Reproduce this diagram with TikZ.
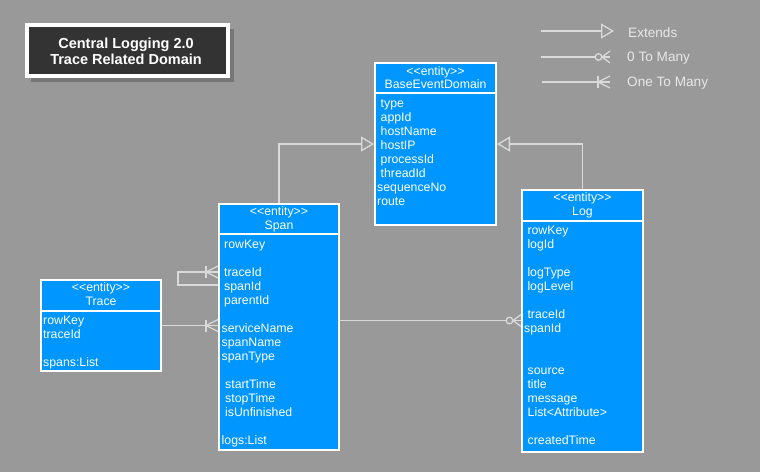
\documentclass[tikz,border=0pt]{standalone}
\usepackage{fontspec}
\setmainfont{Liberation Sans}[Ligatures=TeXOff]
\usetikzlibrary{arrows.meta,calc}

\definecolor{canvas}{HTML}{999999}
\definecolor{entityblue}{HTML}{0096FF}
\definecolor{wire}{HTML}{DADADA}
\definecolor{titlefill}{HTML}{333333}
\definecolor{titleshadow}{HTML}{767676}
\definecolor{legendtext}{HTML}{E8E8E8}

\tikzset{
  entity/.style={draw=white, line width=2pt, fill=entityblue, inner sep=0pt},
  sepline/.style={draw=white, line width=2pt},
  head/.style={anchor=base, inner sep=0pt, text=white, font=\fontsize{12.3}{14}\selectfont},
  attr/.style={anchor=base west, inner sep=0pt, text=white, font=\fontsize{12.3}{14}\selectfont},
  conn/.style={draw=wire, line width=1.3pt},
  extends/.style={conn, -{Triangle[length=13pt, width=15pt, fill=canvas, line width=1.3pt]}},
  legendlabel/.style={anchor=base west, inner sep=0pt, text=legendtext, font=\fontsize{13.6}{16}\selectfont},
  pics/onemany/.style={code={
    \draw[conn] (-12,-6) -- (-12,6);
    \draw[conn] (0,-6) -- (-12,0) -- (0,6);
  }},
  pics/zeromany/.style={code={
    \draw[conn] (0,-6) -- (-8,0) -- (0,6);
    \draw[conn, fill=canvas] (-11.5,0) circle (3.3);
  }},
}

% rows of an entity: name, left x, first baseline, list of row/xoffset/text
\newcommand\entityrows[4]{%
  \foreach \r/\dx/\t in {#4} {
    \node[attr] (#1-\r) at ({#2+\dx}, {#3+14*(\r-1)}) {\t};
  }%
}

\begin{document}
\begin{tikzpicture}[x=1pt, y=-1pt]
  \fill[canvas] (0,0) rectangle (760,472);
  \useasboundingbox (0,0) rectangle (760,472);

  % title block
  \fill[titleshadow] (31,29) rectangle (234,82);
  \node[draw=white, line width=4pt, fill=titlefill, minimum width=201pt, minimum height=51pt,
        inner sep=0pt] (title) at (127.5,50.5) {};
  \node[anchor=base, inner sep=0pt, text=white, font=\fontsize{14.5}{16}\selectfont\bfseries]
    (title-a) at (126,48.3) {Central Logging 2.0};
  \node[anchor=base, inner sep=0pt, text=white, font=\fontsize{14.5}{16}\selectfont\bfseries]
    (title-b) at (126,64.3) {Trace Related Domain};

  % legend
  \coordinate (lg-ext-a) at (541,31);
  \coordinate (lg-ext-b) at (614,31);
  \draw[extends] (lg-ext-a) -- (lg-ext-b);
  \node[legendlabel] (lg-ext) at (628,37.5) {Extends};

  \coordinate (lg-zero-a) at (541,57);
  \coordinate (lg-zero-b) at (610,57);
  \draw[conn] (lg-zero-a) -- (lg-zero-b);
  \pic at (lg-zero-b) {zeromany};
  \node[legendlabel] (lg-zero) at (627,61.7) {0 To Many};

  \coordinate (lg-one-a) at (542,82);
  \coordinate (lg-one-b) at (610,82);
  \draw[conn] (lg-one-a) -- (lg-one-b);
  \pic at (lg-one-b) {onemany};
  \node[legendlabel] (lg-one) at (627,86) {One To Many};

  % BaseEventDomain
  \node[entity, minimum width=121pt, minimum height=162pt] (bed) at (435.5,144) {};
  \draw[sepline] ([yshift=-31pt]bed.north west) -- ([yshift=-31pt]bed.north east);
  \node[head] (bed-st) at ([yshift=-13pt]bed.north) {<<entity>>};
  \node[head] (bed-nm) at ([yshift=-26.5pt]bed.north) {BaseEventDomain};
  \entityrows{bed}{377}{107.5}{1/3.5/type, 2/3.5/appId, 3/3.5/hostName, 4/3.5/hostIP,
    5/3.5/processId, 6/3.5/threadId, 7/0/sequenceNo, 8/0/route}

  % Span
  \node[entity, minimum width=120pt, minimum height=246pt] (span) at (279,327) {};
  \draw[sepline] ([yshift=-31pt]span.north west) -- ([yshift=-31pt]span.north east);
  \node[head] (span-st) at ([yshift=-12pt]span.north) {<<entity>>};
  \node[head] (span-nm) at ([yshift=-26pt]span.north) {Span};
  \entityrows{span}{221.5}{248.5}{1/2.5/rowKey, 3/2.5/traceId, 4/2.5/spanId, 5/2.5/parentId,
    7/0/serviceName, 8/0/spanName, 9/0/spanType, 11/3.5/startTime, 12/3.5/stopTime,
    13/3.5/isUnfinished, 15/0/logs:List}

  % Trace
  \node[entity, minimum width=120pt, minimum height=91pt] (trace) at (101,325.5) {};
  \draw[sepline] ([yshift=-32pt]trace.north west) -- ([yshift=-32pt]trace.north east);
  \node[head] (trace-st) at ([yshift=-12pt]trace.north) {<<entity>>};
  \node[head] (trace-nm) at ([yshift=-26pt]trace.north) {Trace};
  \entityrows{trace}{43}{324.5}{1/0/rowKey, 2/0/traceId, 4/0/spans:List}

  % Log
  \node[entity, minimum width=121pt, minimum height=262pt] (log) at (582.5,321) {};
  \draw[sepline] ([yshift=-32pt]log.north west) -- ([yshift=-32pt]log.north east);
  \node[head] (log-st) at ([yshift=-12pt]log.north) {<<entity>>};
  \node[head] (log-nm) at ([yshift=-26.5pt]log.north) {Log};
  \entityrows{log}{524}{234.5}{1/3.3/rowKey, 2/3.3/logId, 4/3.3/logType, 5/3.3/logLevel,
    7/3.3/traceId, 8/0/spanId, 11/3.5/source, 12/3.3/title, 13/3.3/message,
    14/3.5/List<Attribute>, 16/3.5/createdTime}

  % inheritance
  \draw[extends] (span.north) |- (bed.west);
  \draw[extends] (log.north) |- (bed.east);

  % Span parent/child loop
  \coordinate (span-loop-out) at ([yshift=-82pt]span.north west);
  \coordinate (span-loop-in) at ([yshift=-69pt]span.north west);
  \draw[conn] (span-loop-out) -- ++(-40,0) |- (span-loop-in);
  \pic at (span-loop-in) {onemany};

  % Trace to Span
  \coordinate (trace-span-end) at (trace.east -| span.west);
  \draw[conn] (trace.east) -- (trace-span-end);
  \pic at (trace-span-end) {onemany};

  % Span to Log
  \coordinate (span-log-start) at ([yshift=-117.5pt]span.north east);
  \coordinate (span-log-end) at (span-log-start -| log.west);
  \draw[conn] (span-log-start) -- (span-log-end);
  \pic at (span-log-end) {zeromany};
\end{tikzpicture}
\end{document}
